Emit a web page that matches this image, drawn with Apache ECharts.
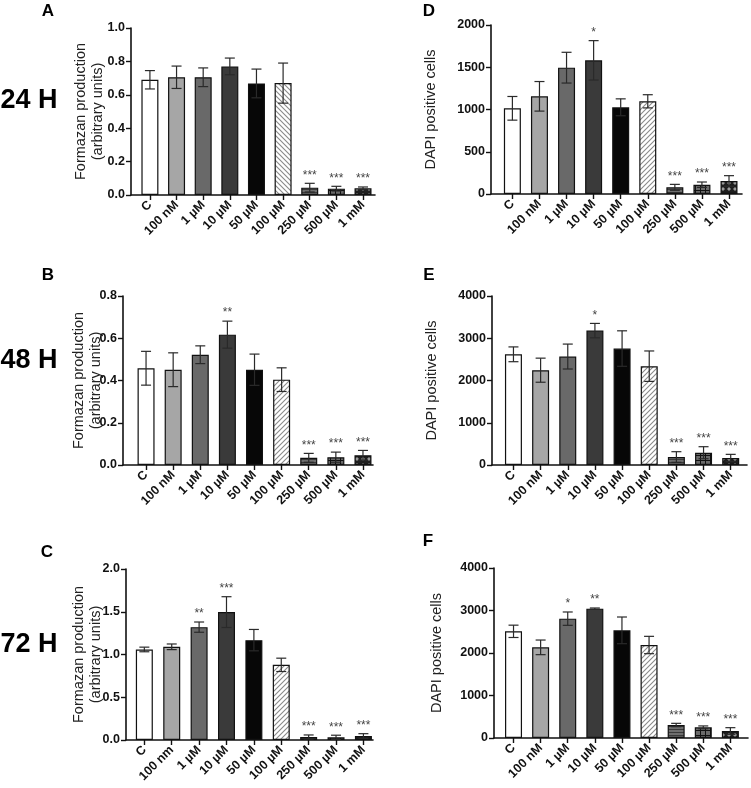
<!DOCTYPE html>
<html><head><meta charset="utf-8">
<script src="https://cdn.jsdelivr.net/npm/echarts@6/dist/echarts.min.js"></script>
<style>html,body{margin:0;padding:0;background:#fff}#c{width:751px;height:788px}</style>
</head><body><div id="c"></div>
<script>
// ---------- DATA ----------
const categoriesA = ['C','100 nM','1 µM','10 µM','50 µM','100 µM','250 µM','500 µM','1 mM'];
const categoriesC = ['C','100 nm','1 µM','10 µM','50 µM','100 µM','250 µM','500 µM','1 mM'];

const formazan24    = [0.69, 0.705, 0.705, 0.77, 0.668, 0.67, 0.044, 0.038, 0.040];
const formazan24Err = [0.055, 0.067, 0.056, 0.05, 0.086, 0.12, 0.026, 0.014, 0.008];
const formazan24Sig = ['','','','','','','***','***','***'];

const formazan48    = [0.458, 0.451, 0.522, 0.617, 0.451, 0.404, 0.034, 0.037, 0.046];
const formazan48Err = [0.08, 0.08, 0.042, 0.064, 0.074, 0.056, 0.021, 0.024, 0.023];
const formazan48Sig = ['','','','**','','','***','***','***'];

const formazan72    = [1.059, 1.09, 1.32, 1.496, 1.168, 0.879, 0.035, 0.031, 0.047];
const formazan72Err = [0.027, 0.033, 0.06, 0.18, 0.125, 0.078, 0.024, 0.025, 0.027];
const formazan72Sig = ['','','**','***','','','***','***','***'];

const dapi24    = [1014, 1156, 1495, 1582, 1026, 1097, 79, 110, 154];
const dapi24Err = [140, 175, 182, 233, 100, 78, 35, 32, 63];
const dapi24Sig = ['','','','*','','','***','***','***'];

const dapi48    = [2620, 2244, 2567, 3181, 2756, 2339, 189, 291, 165];
const dapi48Err = [175, 285, 295, 170, 420, 360, 126, 142, 87];
const dapi48Sig = ['','','','*','','','***','***','***'];

const dapi72    = [2510, 2133, 2808, 3043, 2533, 2188, 306, 251, 165];
const dapi72Err = [145, 172, 157, 16, 314, 204, 39, 33, 78];
const dapi72Sig = ['','','*','**','','','***','***','***'];

const formazanName = 'Formazan production\n(arbitrary units)';
const dapiName = 'DAPI positive cells';
const hourLabels = ['24 H','48 H','72 H'];
const panelLetters = ['A','D','B','E','C','F'];

// ---------- PATTERNS ----------
function mk(w,h,draw){const c=document.createElement('canvas');c.width=w;c.height=h;const g=c.getContext('2d');draw(g,w,h);return {image:c,repeat:'repeat'};}
function diag(dir){return mk(5,5,(g,w,h)=>{g.fillStyle='#fff';g.fillRect(0,0,w,h);g.strokeStyle='#8a8a8a';g.lineWidth=1.1;g.beginPath();
  if(dir>0){g.moveTo(0,5);g.lineTo(5,0);g.moveTo(-1,1);g.lineTo(1,-1);g.moveTo(4,6);g.lineTo(6,4);}
  else{g.moveTo(0,0);g.lineTo(5,5);g.moveTo(-1,4);g.lineTo(1,6);g.moveTo(4,-1);g.lineTo(6,1);}
  g.stroke();});}
const hstripe = mk(4,3,(g,w,h)=>{g.fillStyle='#6e6e6e';g.fillRect(0,0,w,h);g.fillStyle='#3a3a3a';g.fillRect(0,0,w,1);});
const checker = mk(5,5,(g,w,h)=>{g.fillStyle='#6a6a6a';g.fillRect(0,0,w,h);g.fillStyle='#111';g.fillRect(0,0,w,1);g.fillRect(0,0,1,h);});
const dots = mk(6,6,(g,w,h)=>{g.fillStyle='#1e1e1e';g.fillRect(0,0,w,h);g.fillStyle='#9a9a9a';g.beginPath();g.moveTo(3,1);g.lineTo(5,3);g.lineTo(3,5);g.lineTo(1,3);g.closePath();g.fill();});
function barColors(diagDir){return ['#ffffff','#a6a6a6','#696969','#3a3a3a','#070707',diag(diagDir),hstripe,checker,dots];}

// ---------- LAYOUT ----------
const FONT = "'Liberation Sans', Arial, sans-serif";
const panels = [
  {vals:formazan24,errs:formazan24Err,sig:formazan24Sig,cats:categoriesA,name:formazanName,max:1.0,interval:0.2,dec:1,diag:-1,
   grid:{left:131,top:28,width:244,height:167},xmin:-0.71,xmax:8.45,nameGap:25},
  {vals:dapi24,errs:dapi24Err,sig:dapi24Sig,cats:categoriesA,name:dapiName,max:2000,interval:500,dec:0,diag:1,
   grid:{left:491,top:25,width:251,height:169},xmin:-0.79,xmax:8.48,nameGap:52},
  {vals:formazan48,errs:formazan48Err,sig:formazan48Sig,cats:categoriesA,name:formazanName,max:0.8,interval:0.2,dec:1,diag:1,
   grid:{left:123,top:296,width:250,height:169},xmin:-0.85,xmax:8.37,nameGap:19},
  {vals:dapi48,errs:dapi48Err,sig:dapi48Sig,cats:categoriesA,name:dapiName,max:4000,interval:1000,dec:0,diag:1,
   grid:{left:492,top:296,width:255,height:169},xmin:-0.79,xmax:8.6,nameGap:52},
  {vals:formazan72,errs:formazan72Err,sig:formazan72Sig,cats:categoriesC,name:formazanName,max:2.0,interval:0.5,dec:1,diag:1,
   grid:{left:126,top:569,width:247,height:171},xmin:-0.67,xmax:8.35,nameGap:22},
  {vals:dapi72,errs:dapi72Err,sig:dapi72Sig,cats:categoriesA,name:dapiName,max:4000,interval:1000,dec:0,diag:1,
   grid:{left:494,top:568,width:254,height:170},xmin:-0.72,xmax:8.65,nameGap:49}
];
const idx = [0,1,2,3,4,5,6,7,8];

const grids=[],xAxes=[],yAxes=[],series=[];
panels.forEach((p,k)=>{
  grids.push(Object.assign({containLabel:false},p.grid));
  xAxes.push({type:'value',gridIndex:k,min:p.xmin,max:p.xmax,splitLine:{show:false},
    axisLine:{show:true,onZero:false,lineStyle:{color:'#111',width:1.6}},
    axisTick:{show:true,customValues:idx,length:5,lineStyle:{color:'#111',width:1.4}},
    axisLabel:{customValues:idx,rotate:45,margin:8,fontSize:12.5,fontWeight:'bold',color:'#111',fontFamily:FONT,
      formatter:(v)=>p.cats[Math.round(v)]}});
  yAxes.push({type:'value',gridIndex:k,min:0,max:p.max,interval:p.interval,splitLine:{show:false},
    axisLine:{show:true,onZero:false,lineStyle:{color:'#111',width:1.6}},
    axisTick:{show:true,length:5,lineStyle:{color:'#111',width:1.4}},
    axisLabel:{margin:6,fontSize:12.5,fontWeight:'bold',color:'#111',fontFamily:FONT,formatter:(v)=>v.toFixed(p.dec)},
    name:p.name,nameLocation:'middle',nameGap:p.nameGap,nameRotate:90,nameMoveOverlap:false,
    nameTextStyle:{fontSize:14.5,color:'#222',fontFamily:FONT,lineHeight:17}});
  const cols = barColors(p.diag);
  series.push({type:'bar',xAxisIndex:k,yAxisIndex:k,barWidth:17,silent:true,animation:false,
    data:p.vals.map((v,i)=>({value:[i,v],itemStyle:{color:cols[i],borderColor:'#111',borderWidth:1.2}}))});
  series.push({type:'custom',xAxisIndex:k,yAxisIndex:k,silent:true,animation:false,z:5,
    data:p.vals.map((v,i)=>[i,v,p.errs[i]]),
    renderItem:(params,api)=>{
      const i=params.dataIndex,x=api.value(0),v=api.value(1),e=api.value(2);
      const t=api.coord([x,v+e]),b=api.coord([x,Math.max(0,v-e)]);
      const cw=5,st={stroke:'#2a2a2a',lineWidth:1.2};
      const ch=[
        {type:'line',shape:{x1:t[0],y1:t[1],x2:b[0],y2:b[1]},style:st},
        {type:'line',shape:{x1:t[0]-cw,y1:t[1],x2:t[0]+cw,y2:t[1]},style:st},
        {type:'line',shape:{x1:b[0]-cw,y1:b[1],x2:b[0]+cw,y2:b[1]},style:st}];
      if(p.sig[i]) ch.push({type:'text',x:t[0],y:t[1]-2,style:{text:p.sig[i],fill:'#444',font:'12px '+FONT,align:'center',verticalAlign:'bottom'}});
      return {type:'group',children:ch};
    }});
});

const letterPos=[[48,11],[429,11],[48,275],[429,275],[47,552],[428,541]];
const hourPos=[[29,101],[29,361],[29,645]];
const graphic=[];
panelLetters.forEach((L,i)=>graphic.push({type:'text',x:letterPos[i][0],y:letterPos[i][1],
  style:{text:L,font:'bold 17px '+FONT,fill:'#000',align:'center',verticalAlign:'middle'}}));
hourLabels.forEach((h,i)=>graphic.push({type:'text',x:hourPos[i][0],y:hourPos[i][1],
  style:{text:h,font:'bold 27px '+FONT,fill:'#000',align:'center',verticalAlign:'middle'}}));

const chart=echarts.init(document.getElementById('c'),null,{renderer:'canvas'});
chart.setOption({animation:false,backgroundColor:'#fff',grid:grids,xAxis:xAxes,yAxis:yAxes,series:series,graphic:graphic});
</script></body></html>
